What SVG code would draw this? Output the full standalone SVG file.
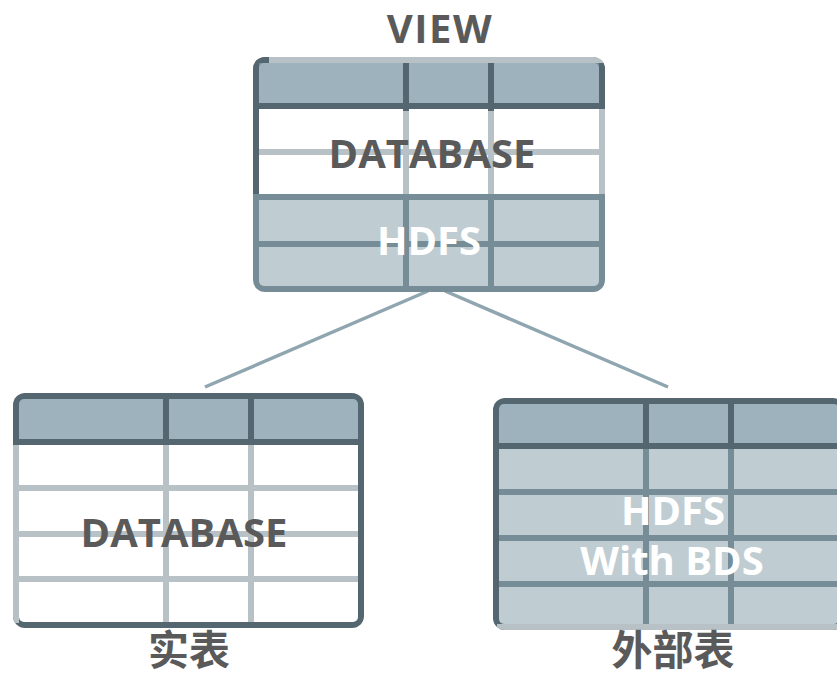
<svg xmlns="http://www.w3.org/2000/svg" width="837" height="677" viewBox="0 0 837 677">
  <style>
    .dark { fill: #546770; }
    .light { fill: #b8c1c5; }
    .mid { fill: #768d97; }
    .head { fill: #9db2bc; }
    .blue { fill: #bfcdd3; }
    .white { fill: #ffffff; }
    .label { font-family: "Open Sans", "Liberation Sans", sans-serif; font-weight: 700; text-anchor: middle; }
    .grey { fill: #5a5a5a; }
    .inv { fill: #ffffff; }
    .cjk { font-family: "Noto Sans CJK SC", "Noto Sans CJK JP", sans-serif; font-weight: 700; text-anchor: middle; fill: #5a5a5a; }
    .link { stroke: #8fa5b0; stroke-width: 3.5; fill: none; }
  </style>
  <defs>
    <clipPath id="clipView"><rect x="253" y="57" width="352" height="235" rx="12"/></clipPath>
    <clipPath id="clipViewIn"><rect x="259" y="63" width="340" height="223" rx="5"/></clipPath>
    <clipPath id="clipReal"><rect x="13" y="393" width="351" height="235" rx="12"/></clipPath>
    <clipPath id="clipRealIn"><rect x="19" y="399" width="339" height="223" rx="5"/></clipPath>
    <clipPath id="clipExt"><rect x="493" y="398" width="352" height="232" rx="12"/></clipPath>
    <clipPath id="clipExtIn"><rect x="499" y="404" width="340" height="220" rx="5"/></clipPath>
  </defs>

  <!-- connectors from the view down to both source tables -->
  <g id="connectors">
    <line class="link" x1="428" y1="291" x2="205" y2="387"/>
    <line class="link" x1="445" y1="291" x2="668" y2="387"/>
  </g>

  <!-- VIEW: database rows on top, HDFS rows below -->
  <g id="view">
    <text class="label grey" x="440" y="43" font-size="40" letter-spacing="1.5">VIEW</text>
    <g clip-path="url(#clipView)">
      <rect class="mid" x="253" y="57" width="352" height="235"/>
      <rect class="dark" x="253" y="57" width="6" height="140"/>
      <rect class="dark" x="253" y="57" width="16" height="6"/>
      <rect class="light" x="269" y="57" width="336" height="6"/>
      <rect class="dark" x="599" y="63" width="6" height="46"/>
      <rect class="light" x="599" y="109" width="6" height="88"/>
    </g>
    <g clip-path="url(#clipViewIn)">
      <rect class="head" x="259" y="63" width="340" height="40"/>
      <rect class="white" x="259" y="109" width="340" height="85"/>
      <rect class="blue" x="259" y="200" width="340" height="86"/>
      <rect class="light" x="259" y="149" width="340" height="6"/>
      <rect class="mid" x="259" y="241" width="340" height="6"/>
      <rect class="dark" x="403" y="63" width="6" height="48"/>
      <rect class="dark" x="488" y="63" width="6" height="48"/>
      <rect class="light" x="403" y="111" width="6" height="83"/>
      <rect class="light" x="488" y="111" width="6" height="83"/>
      <rect class="mid" x="403" y="200" width="6" height="86"/>
      <rect class="mid" x="488" y="200" width="6" height="86"/>
    </g>
    <rect class="dark" x="253" y="103" width="352" height="6"/>
    <rect class="mid" x="253" y="194" width="352" height="6"/>
    <text class="label grey" x="432" y="168" font-size="40">DATABASE</text>
    <text class="label inv" x="429" y="255" font-size="40">HDFS</text>
  </g>

  <!-- real table backed by the database -->
  <g id="real-table">
    <g clip-path="url(#clipReal)">
      <rect class="dark" x="13" y="393" width="351" height="235"/>
      <rect class="light" x="13" y="445" width="6" height="178"/>
    </g>
    <g clip-path="url(#clipRealIn)">
      <rect class="head" x="19" y="399" width="339" height="40"/>
      <rect class="white" x="19" y="445" width="339" height="177"/>
      <rect class="light" x="19" y="485" width="339" height="6"/>
      <rect class="light" x="19" y="531" width="339" height="6"/>
      <rect class="light" x="19" y="576" width="339" height="6"/>
      <rect class="dark" x="163" y="399" width="6" height="46"/>
      <rect class="dark" x="248" y="399" width="6" height="46"/>
      <rect class="light" x="163" y="445" width="6" height="177"/>
      <rect class="light" x="248" y="445" width="6" height="177"/>
    </g>
    <rect class="dark" x="13" y="439" width="351" height="6"/>
    <text class="label grey" x="184" y="547" font-size="40">DATABASE</text>
    <text class="cjk" x="189" y="665" font-size="41">实表</text>
  </g>

  <!-- external table stored in HDFS -->
  <g id="external-table">
    <g clip-path="url(#clipExt)">
      <rect class="dark" x="493" y="398" width="352" height="232"/>
      <rect class="light" x="497" y="624" width="348" height="6"/>
    </g>
    <g clip-path="url(#clipExtIn)">
      <rect class="head" x="499" y="404" width="340" height="39"/>
      <rect class="blue" x="499" y="449" width="340" height="175"/>
      <rect class="mid" x="499" y="489" width="340" height="6"/>
      <rect class="mid" x="499" y="535" width="340" height="6"/>
      <rect class="mid" x="499" y="581" width="340" height="6"/>
      <rect class="dark" x="643" y="404" width="6" height="45"/>
      <rect class="dark" x="728" y="404" width="6" height="45"/>
      <rect class="mid" x="643" y="449" width="6" height="175"/>
      <rect class="mid" x="728" y="449" width="6" height="175"/>
    </g>
    <rect class="dark" x="493" y="443" width="352" height="6"/>
    <text class="label inv" x="673" y="525" font-size="40">HDFS</text>
    <text class="label inv" x="672" y="575" font-size="40">With BDS</text>
    <text class="cjk" x="673" y="665" font-size="41">外部表</text>
  </g>
</svg>
